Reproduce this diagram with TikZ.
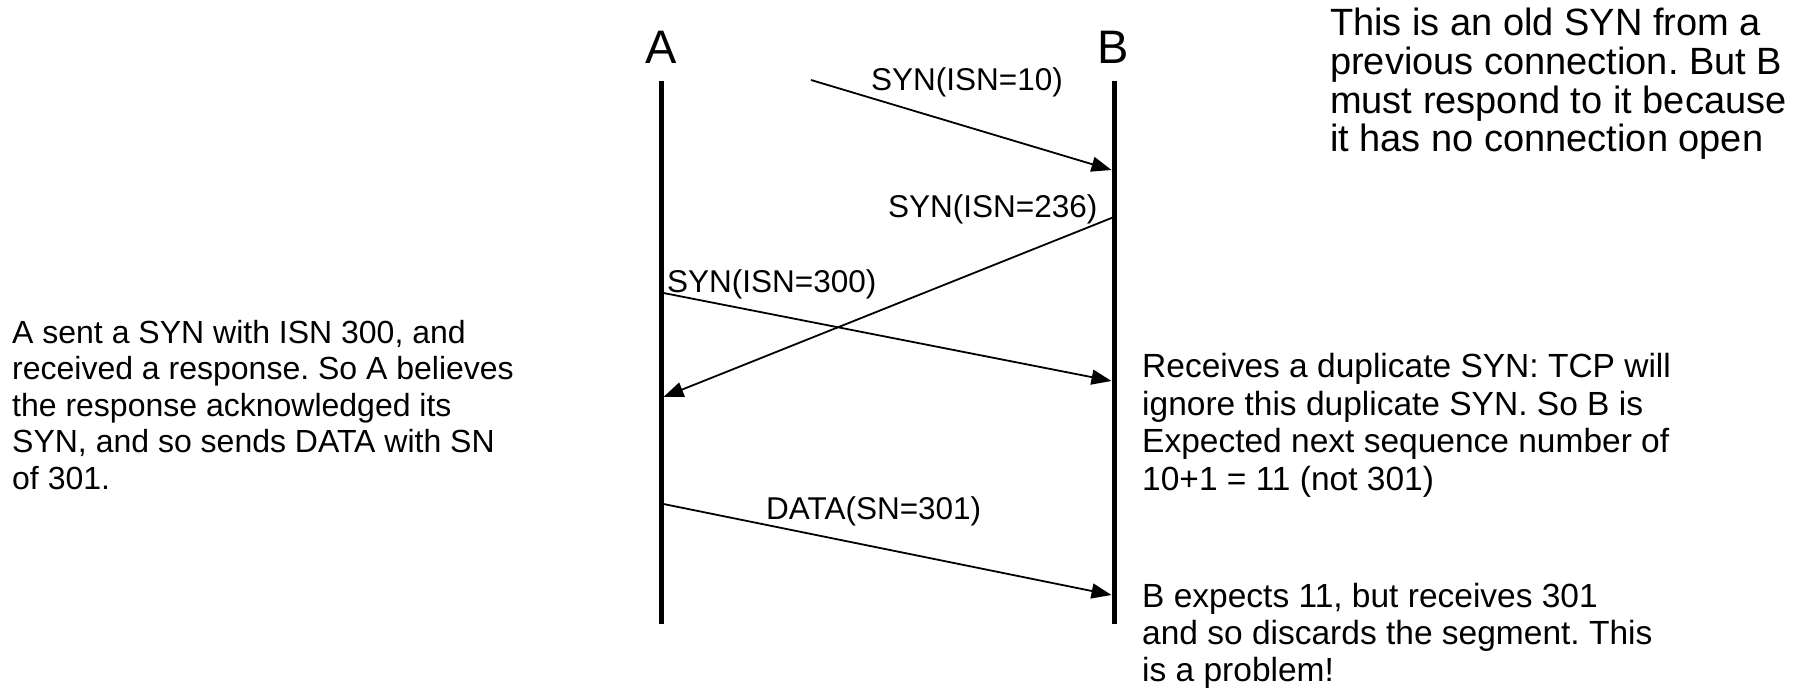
\documentclass[tikz,border=0pt]{standalone}
\usepackage{fontspec}
\setmainfont{Liberation Sans}
\usetikzlibrary{arrows.meta}
\frenchspacing
\begin{document}
\begin{tikzpicture}[x=1pt,y=-1pt,
  lifeline/.style={line width=5pt},
  msg/.style={line width=1.8pt,-{Triangle[length=20pt,width=15pt]}},
  msglabel/.style={font=\fontsize{31.5}{36}\selectfont,inner sep=0pt,anchor=base west},
  note/.style={inner sep=0pt,anchor=base west,align=left},
  host/.style={font=\fontsize{47}{52}\selectfont,inner sep=0pt}]
\useasboundingbox (0,0) rectangle (1808,690);

% hosts and their time lines
\node[host] (A) at (661,47) {A};
\node[host] (B) at (1113,47) {B};
\coordinate (Atop) at (661,81);
\coordinate (Abot) at (661,624);
\coordinate (Btop) at (1114,81);
\coordinate (Bbot) at (1114,624);
\draw[lifeline] (Atop) -- (Abot);
\draw[lifeline] (Btop) -- (Bbot);

% message end points
\coordinate (old)  at (811,80);
\coordinate (b1)   at (1111.5,170);
\coordinate (b2)   at (1114,217);
\coordinate (a2)   at (663.5,397);
\coordinate (a3)   at (663.5,293);
\coordinate (b3)   at (1111.5,381);
\coordinate (a4)   at (663.5,504);
\coordinate (b4)   at (1111.5,595);

\draw[msg] (old) -- (b1);
\draw[msg] (b2) -- (a2);
\draw[msg] (a3) -- (b3);
\draw[msg] (a4) -- (b4);

% message labels
\node[msglabel] (l1) at (871,91)  {SYN(ISN=10)};
\node[msglabel] (l2) at (888,218) {SYN(ISN=236)};
\node[msglabel] (l3) at (667,292) {SYN(ISN=300)};
\node[msglabel] (l4) at (766,519) {DATA(SN=301)};

% explanations (anchored at the baseline of their last line)
\node[note,font=\fontsize{38}{38.8}\selectfont] (n1) at (1330,152)
  {This is an old SYN from a\\previous connection. But B\\must respond to it because\\it has no connection open};
\node[note,font=\fontsize{32}{36.5}\selectfont] (n2) at (12,489)
  {A sent a SYN with ISN 300, and\\received a response. So A believes\\the response acknowledged its\\SYN, and so sends DATA with SN\\of 301.};
\node[note,font=\fontsize{33.5}{37.5}\selectfont] (n3) at (1142,490)
  {Receives a duplicate SYN: TCP will\\ignore this duplicate SYN. So B is\\Expected next sequence number of\\10+1 = 11 (not 301)};
\node[note,font=\fontsize{33.5}{37}\selectfont] (n4) at (1142,681)
  {B expects 11, but receives 301\\and so discards the segment. This\\is a problem!};
\end{tikzpicture}
\end{document}
